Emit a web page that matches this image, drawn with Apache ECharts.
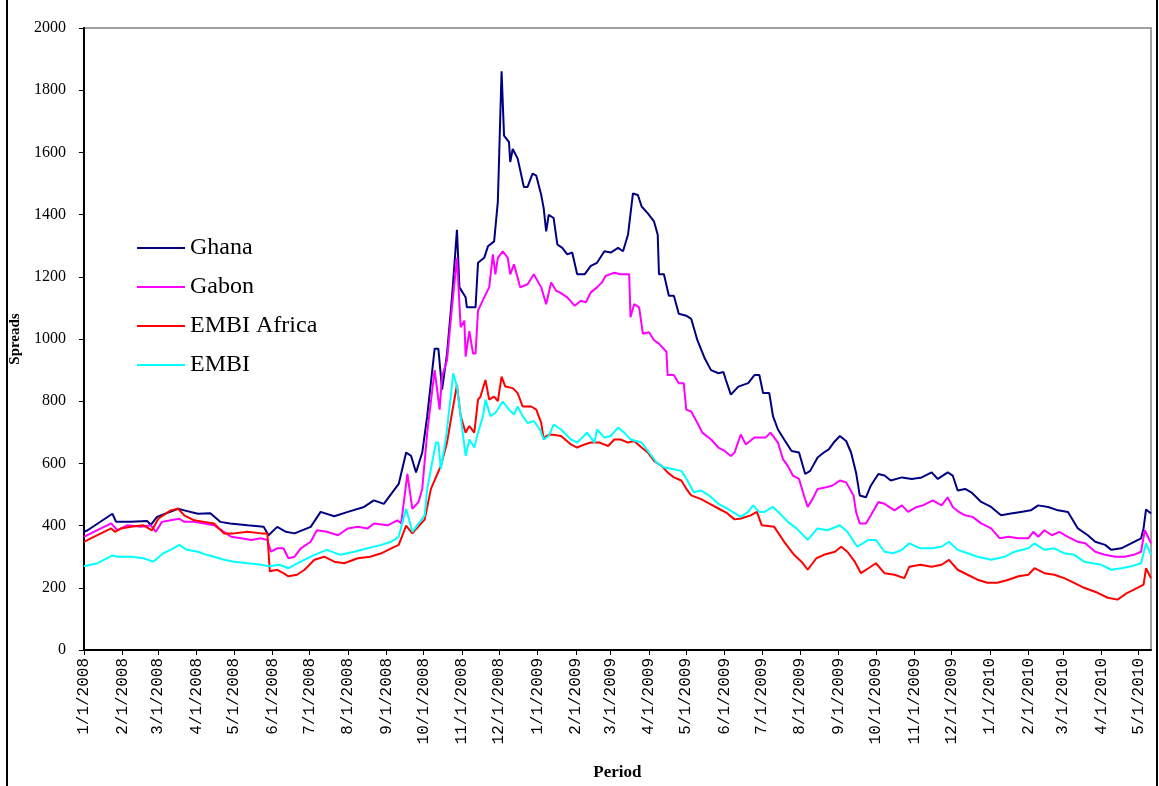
<!DOCTYPE html>
<html>
<head>
<meta charset="utf-8">
<title>Spreads</title>
<script src="https://cdn.jsdelivr.net/npm/echarts@6/dist/echarts.min.js"></script>
<style>
  html, body { margin: 0; padding: 0; background: #fff; }
  #chart { width: 1159px; height: 786px; }
</style>
</head>
<body>
<div id="chart"></div>
<script>
// month tick labels on the x axis
const monthLabels = ['1/1/2008', '2/1/2008', '3/1/2008', '4/1/2008', '5/1/2008', '6/1/2008', '7/1/2008', '8/1/2008', '9/1/2008', '10/1/2008', '11/1/2008', '12/1/2008',
  '1/1/2009', '2/1/2009', '3/1/2009', '4/1/2009', '5/1/2009', '6/1/2009', '7/1/2009', '8/1/2009', '9/1/2009', '10/1/2009', '11/1/2009', '12/1/2009',
  '1/1/2010', '2/1/2010', '3/1/2010', '4/1/2010', '5/1/2010']
const lastDay = '5/11/2010'

// spreads, [date, value]
const ghana = [
  ['2008-01-01', 380], ['2008-01-04', 385], ['2008-01-24', 438], ['2008-01-27', 412], ['2008-02-08', 412], ['2008-02-21', 415], ['2008-02-24', 402], ['2008-02-29', 428],
  ['2008-03-17', 454], ['2008-03-22', 449], ['2008-04-02', 438], ['2008-04-12', 440], ['2008-04-20', 412], ['2008-04-28', 407], ['2008-05-12', 401], ['2008-05-25', 396],
  ['2008-05-29', 369], ['2008-06-05', 396], ['2008-06-12', 380], ['2008-06-19', 375], ['2008-07-02', 396], ['2008-07-10', 444], ['2008-07-21', 430], ['2008-08-01', 444],
  ['2008-08-14', 460], ['2008-08-22', 481], ['2008-08-30', 470], ['2008-09-05', 502], ['2008-09-11', 534], ['2008-09-17', 635], ['2008-09-21', 624], ['2008-09-25', 571],
  ['2008-09-30', 635], ['2008-10-04', 752], ['2008-10-10', 969], ['2008-10-13', 969], ['2008-10-16', 837], ['2008-10-20', 953], ['2008-10-24', 1134], ['2008-10-28', 1351],
  ['2008-10-30', 1166], ['2008-11-04', 1134], ['2008-11-05', 1102], ['2008-11-12', 1102], ['2008-11-14', 1245], ['2008-11-19', 1261], ['2008-11-22', 1298], ['2008-11-27', 1314],
  ['2008-11-30', 1442], ['2008-12-03', 1861], ['2008-12-05', 1654], ['2008-12-09', 1633], ['2008-12-10', 1569], ['2008-12-12', 1611], ['2008-12-16', 1580], ['2008-12-21', 1489],
  ['2008-12-24', 1489], ['2008-12-28', 1532], ['2008-12-31', 1525], ['2009-01-04', 1463], ['2009-01-06', 1420], ['2009-01-08', 1346], ['2009-01-10', 1399], ['2009-01-14', 1389],
  ['2009-01-17', 1304], ['2009-01-21', 1293], ['2009-01-25', 1272], ['2009-01-29', 1278], ['2009-02-02', 1208], ['2009-02-08', 1208], ['2009-02-13', 1235], ['2009-02-18', 1245],
  ['2009-02-24', 1282], ['2009-03-01', 1278], ['2009-03-07', 1293], ['2009-03-11', 1282], ['2009-03-15', 1335], ['2009-03-19', 1468], ['2009-03-23', 1463], ['2009-03-26', 1426],
  ['2009-03-31', 1404], ['2009-04-05', 1378], ['2009-04-08', 1335], ['2009-04-09', 1208], ['2009-04-13', 1208], ['2009-04-17', 1139], ['2009-04-21', 1139], ['2009-04-25', 1081],
  ['2009-05-01', 1075], ['2009-05-05', 1065], ['2009-05-10', 996], ['2009-05-16', 937], ['2009-05-21', 900], ['2009-05-27', 890], ['2009-05-31', 894], ['2009-06-02', 868],
  ['2009-06-06', 821], ['2009-06-12', 847], ['2009-06-20', 858], ['2009-06-25', 884], ['2009-06-29', 884], ['2009-07-02', 826], ['2009-07-07', 826], ['2009-07-10', 752],
  ['2009-07-14', 709], ['2009-07-19', 677], ['2009-07-25', 640], ['2009-07-31', 635], ['2009-08-05', 566], ['2009-08-09', 576], ['2009-08-15', 619], ['2009-08-20', 635],
  ['2009-08-24', 645], ['2009-08-28', 667], ['2009-09-02', 688], ['2009-09-07', 672], ['2009-09-11', 635], ['2009-09-15', 571], ['2009-09-18', 497], ['2009-09-23', 491],
  ['2009-09-27', 529], ['2009-10-03', 566], ['2009-10-08', 561], ['2009-10-13', 545], ['2009-10-22', 555], ['2009-10-30', 550], ['2009-11-07', 555], ['2009-11-15', 571],
  ['2009-11-20', 550], ['2009-11-28', 571], ['2009-12-02', 561], ['2009-12-06', 513], ['2009-12-12', 518], ['2009-12-17', 507], ['2009-12-25', 476], ['2010-01-02', 460],
  ['2010-01-10', 433], ['2010-01-18', 439], ['2010-01-26', 444], ['2010-02-03', 449], ['2010-02-09', 465], ['2010-02-17', 460], ['2010-02-25', 449], ['2010-03-05', 444],
  ['2010-03-13', 391], ['2010-03-21', 369], ['2010-03-27', 348], ['2010-04-04', 338], ['2010-04-09', 322], ['2010-04-17', 327], ['2010-04-25', 343], ['2010-05-03', 359],
  ['2010-05-05', 391], ['2010-05-07', 452], ['2010-05-11', 439]
]

const gabon = [
  ['2008-01-01', 364], ['2008-01-09', 380], ['2008-01-23', 407], ['2008-01-28', 385], ['2008-02-05', 401], ['2008-02-16', 396], ['2008-02-24', 401], ['2008-02-28', 380],
  ['2008-03-04', 412], ['2008-03-11', 417], ['2008-03-18', 422], ['2008-03-22', 412], ['2008-03-30', 412], ['2008-04-07', 407], ['2008-04-15', 401], ['2008-04-23', 380],
  ['2008-04-29', 364], ['2008-05-07', 359], ['2008-05-15', 354], ['2008-05-23', 359], ['2008-05-28', 354], ['2008-05-31', 316], ['2008-06-05', 327], ['2008-06-10', 327],
  ['2008-06-14', 295], ['2008-06-19', 300], ['2008-06-24', 327], ['2008-07-02', 348], ['2008-07-07', 385], ['2008-07-15', 380], ['2008-07-24', 369], ['2008-08-01', 391],
  ['2008-08-09', 396], ['2008-08-17', 391], ['2008-08-22', 407], ['2008-09-02', 401], ['2008-09-10', 417], ['2008-09-13', 407], ['2008-09-18', 566], ['2008-09-22', 454],
  ['2008-09-27', 476], ['2008-09-30', 518], ['2008-10-04', 699], ['2008-10-10', 900], ['2008-10-12', 837], ['2008-10-14', 773], ['2008-10-16', 879], ['2008-10-20', 932],
  ['2008-10-24', 1102], ['2008-10-28', 1261], ['2008-10-31', 1038], ['2008-11-03', 1059], ['2008-11-04', 943], ['2008-11-07', 1025], ['2008-11-10', 953], ['2008-11-12', 953],
  ['2008-11-14', 1091], ['2008-11-19', 1134], ['2008-11-23', 1166], ['2008-11-26', 1272], ['2008-11-28', 1208], ['2008-11-30', 1261], ['2008-12-04', 1282], ['2008-12-08', 1261],
  ['2008-12-10', 1208], ['2008-12-13', 1240], ['2008-12-16', 1197], ['2008-12-18', 1166], ['2008-12-24', 1176], ['2008-12-29', 1208], ['2009-01-04', 1166], ['2009-01-08', 1112],
  ['2009-01-12', 1182], ['2009-01-16', 1155], ['2009-01-19', 1150], ['2009-01-25', 1134], ['2009-01-31', 1107], ['2009-02-05', 1123], ['2009-02-09', 1118], ['2009-02-13', 1150],
  ['2009-02-18', 1166], ['2009-02-22', 1182], ['2009-02-25', 1203], ['2009-03-04', 1213], ['2009-03-09', 1208], ['2009-03-16', 1208], ['2009-03-17', 1070], ['2009-03-20', 1112],
  ['2009-03-24', 1102], ['2009-03-27', 1017], ['2009-04-01', 1022], ['2009-04-05', 996], ['2009-04-09', 985], ['2009-04-15', 959], ['2009-04-16', 884], ['2009-04-21', 884],
  ['2009-04-25', 858], ['2009-04-29', 858], ['2009-05-01', 773], ['2009-05-05', 767], ['2009-05-10', 730], ['2009-05-14', 699], ['2009-05-21', 677], ['2009-05-27', 651],
  ['2009-06-01', 640], ['2009-06-06', 624], ['2009-06-09', 635], ['2009-06-14', 693], ['2009-06-18', 661], ['2009-06-25', 683], ['2009-06-29', 683], ['2009-07-04', 683],
  ['2009-07-08', 699], ['2009-07-14', 667], ['2009-07-18', 614], ['2009-07-22', 592], ['2009-07-26', 561], ['2009-07-31', 550], ['2009-08-04', 497], ['2009-08-07', 460],
  ['2009-08-11', 486], ['2009-08-15', 518], ['2009-08-22', 523], ['2009-08-27', 529], ['2009-09-02', 545], ['2009-09-07', 539], ['2009-09-13', 497], ['2009-09-15', 444],
  ['2009-09-18', 407], ['2009-09-23', 407], ['2009-09-27', 433], ['2009-10-03', 476], ['2009-10-08', 470], ['2009-10-16', 449], ['2009-10-22', 465], ['2009-10-27', 444],
  ['2009-11-03', 460], ['2009-11-08', 465], ['2009-11-16', 481], ['2009-11-23', 465], ['2009-11-28', 491], ['2009-12-02', 460], ['2009-12-07', 444], ['2009-12-12', 433],
  ['2009-12-18', 428], ['2009-12-25', 407], ['2010-01-02', 391], ['2010-01-09', 359], ['2010-01-16', 364], ['2010-01-24', 359], ['2010-02-01', 359], ['2010-02-05', 380],
  ['2010-02-09', 364], ['2010-02-14', 385], ['2010-02-20', 369], ['2010-02-26', 380], ['2010-03-05', 364], ['2010-03-13', 348], ['2010-03-19', 343], ['2010-03-27', 316],
  ['2010-04-04', 306], ['2010-04-12', 300], ['2010-04-20', 300], ['2010-04-27', 306], ['2010-05-03', 316], ['2010-05-06', 385], ['2010-05-08', 369], ['2010-05-11', 343]
]

const embiAfrica = [
  ['2008-01-01', 348], ['2008-01-09', 364], ['2008-01-23', 391], ['2008-01-26', 380], ['2008-01-31', 391], ['2008-02-08', 396], ['2008-02-18', 401], ['2008-02-25', 385],
  ['2008-03-01', 422], ['2008-03-07', 438], ['2008-03-11', 449], ['2008-03-17', 454], ['2008-03-22', 433], ['2008-03-30', 417], ['2008-04-07', 412], ['2008-04-15', 407],
  ['2008-04-23', 375], ['2008-05-01', 375], ['2008-05-12', 380], ['2008-05-23', 375], ['2008-05-28', 375], ['2008-05-30', 253], ['2008-06-05', 258], ['2008-06-10', 247],
  ['2008-06-14', 237], ['2008-06-21', 242], ['2008-06-27', 258], ['2008-07-05', 290], ['2008-07-13', 300], ['2008-07-21', 284], ['2008-07-29', 279], ['2008-08-09', 295],
  ['2008-08-19', 300], ['2008-08-28', 311], ['2008-09-05', 327], ['2008-09-11', 338], ['2008-09-17', 400], ['2008-09-22', 375], ['2008-10-02', 420], ['2008-10-07', 518],
  ['2008-10-15', 592], ['2008-10-20', 667], ['2008-10-24', 762], ['2008-10-28', 852], ['2008-10-31', 752], ['2008-11-04', 699], ['2008-11-07', 720], ['2008-11-11', 699],
  ['2008-11-14', 805], ['2008-11-16', 815], ['2008-11-20', 868], ['2008-11-23', 805], ['2008-11-27', 815], ['2008-11-30', 800], ['2008-12-03', 879], ['2008-12-06', 847],
  ['2008-12-12', 842], ['2008-12-16', 826], ['2008-12-20', 783], ['2008-12-27', 783], ['2008-12-31', 773], ['2009-01-04', 730], ['2009-01-06', 677], ['2009-01-08', 688],
  ['2009-01-12', 693], ['2009-01-20', 688], ['2009-01-28', 661], ['2009-02-02', 651], ['2009-02-08', 661], ['2009-02-13', 667], ['2009-02-20', 667], ['2009-02-27', 656],
  ['2009-03-04', 677], ['2009-03-09', 677], ['2009-03-15', 667], ['2009-03-20', 672], ['2009-03-26', 651], ['2009-03-31', 635], ['2009-04-05', 608], ['2009-04-11', 592],
  ['2009-04-16', 571], ['2009-04-21', 555], ['2009-04-27', 545], ['2009-05-02', 513], ['2009-05-05', 497], ['2009-05-13', 485], ['2009-05-20', 470], ['2009-05-27', 455],
  ['2009-06-03', 440], ['2009-06-09', 420], ['2009-06-14', 423], ['2009-06-22', 433], ['2009-06-27', 444], ['2009-07-01', 401], ['2009-07-11', 396], ['2009-07-19', 348],
  ['2009-07-27', 306], ['2009-08-02', 284], ['2009-08-07', 258], ['2009-08-14', 295], ['2009-08-20', 306], ['2009-08-29', 316], ['2009-09-03', 332], ['2009-09-08', 316],
  ['2009-09-14', 284], ['2009-09-19', 247], ['2009-09-25', 263], ['2009-10-01', 279], ['2009-10-08', 247], ['2009-10-16', 242], ['2009-10-24', 231], ['2009-10-28', 268],
  ['2009-11-06', 274], ['2009-11-15', 268], ['2009-11-23', 274], ['2009-11-29', 290], ['2009-12-06', 258], ['2009-12-14', 242], ['2009-12-22', 226], ['2009-12-30', 216],
  ['2010-01-07', 216], ['2010-01-16', 226], ['2010-01-24', 237], ['2010-02-01', 242], ['2010-02-06', 263], ['2010-02-14', 247], ['2010-02-22', 242], ['2010-03-02', 231],
  ['2010-03-10', 216], ['2010-03-18', 200], ['2010-03-29', 184], ['2010-04-06', 168], ['2010-04-14', 162], ['2010-04-22', 184], ['2010-04-30', 200], ['2010-05-05', 210],
  ['2010-05-07', 263], ['2010-05-11', 231]
]

const embi = [
  ['2008-01-01', 269], ['2008-01-12', 279], ['2008-01-24', 304], ['2008-01-28', 300], ['2008-02-08', 300], ['2008-02-18', 295], ['2008-02-26', 284], ['2008-03-05', 311],
  ['2008-03-11', 322], ['2008-03-18', 338], ['2008-03-24', 322], ['2008-04-02', 316], ['2008-04-09', 306], ['2008-04-15', 300], ['2008-04-23', 290], ['2008-05-01', 284],
  ['2008-05-12', 279], ['2008-05-23', 274], ['2008-05-29', 269], ['2008-06-07', 274], ['2008-06-14', 263], ['2008-06-24', 284], ['2008-07-05', 306], ['2008-07-15', 322],
  ['2008-07-26', 306], ['2008-08-06', 316], ['2008-08-17', 327], ['2008-08-28', 338], ['2008-09-05', 348], ['2008-09-11', 364], ['2008-09-17', 454], ['2008-09-22', 380],
  ['2008-10-02', 433], ['2008-10-04', 518], ['2008-10-11', 667], ['2008-10-13', 667], ['2008-10-15', 582], ['2008-10-19', 677], ['2008-10-23', 815], ['2008-10-25', 890],
  ['2008-10-28', 847], ['2008-11-01', 720], ['2008-11-04', 624], ['2008-11-07', 677], ['2008-11-11', 651], ['2008-11-14', 699], ['2008-11-18', 752], ['2008-11-20', 805],
  ['2008-11-24', 752], ['2008-11-28', 762], ['2008-12-04', 799], ['2008-12-09', 773], ['2008-12-13', 757], ['2008-12-16', 783], ['2008-12-20', 752], ['2008-12-24', 730],
  ['2008-12-29', 736], ['2009-01-03', 709], ['2009-01-06', 677], ['2009-01-10', 688], ['2009-01-14', 725], ['2009-01-20', 709], ['2009-01-28', 677], ['2009-02-02', 667],
  ['2009-02-10', 699], ['2009-02-16', 667], ['2009-02-18', 709], ['2009-02-24', 683], ['2009-03-01', 688], ['2009-03-07', 715], ['2009-03-12', 699], ['2009-03-17', 677],
  ['2009-03-26', 667], ['2009-04-01', 635], ['2009-04-07', 603], ['2009-04-13', 587], ['2009-04-20', 582], ['2009-04-27', 576], ['2009-05-02', 545], ['2009-05-07', 507],
  ['2009-05-13', 513], ['2009-05-20', 495], ['2009-05-27', 470], ['2009-06-03', 455], ['2009-06-09', 440], ['2009-06-14', 428], ['2009-06-20', 444], ['2009-06-24', 465],
  ['2009-06-29', 444], ['2009-07-03', 444], ['2009-07-10', 460], ['2009-07-17', 433], ['2009-07-22', 412], ['2009-07-29', 391], ['2009-08-07', 354], ['2009-08-15', 391],
  ['2009-08-23', 385], ['2009-09-02', 401], ['2009-09-08', 380], ['2009-09-16', 332], ['2009-09-25', 354], ['2009-10-01', 354], ['2009-10-08', 316], ['2009-10-15', 311],
  ['2009-10-22', 322], ['2009-10-28', 343], ['2009-11-06', 327], ['2009-11-15', 327], ['2009-11-23', 332], ['2009-11-29', 348], ['2009-12-06', 322], ['2009-12-14', 311],
  ['2009-12-22', 300], ['2010-01-02', 290], ['2010-01-13', 300], ['2010-01-21', 316], ['2010-02-01', 327], ['2010-02-06', 343], ['2010-02-14', 322], ['2010-02-22', 327],
  ['2010-03-02', 311], ['2010-03-10', 306], ['2010-03-18', 284], ['2010-04-01', 274], ['2010-04-09', 258], ['2010-04-17', 263], ['2010-04-25', 269], ['2010-05-03', 279],
  ['2010-05-07', 343], ['2010-05-11', 306]
]

const seriesNames = ['Ghana', 'Gabon', 'EMBI Africa', 'EMBI']
const seriesColors = ['#000080', '#ff00ff', '#ff0000', '#00ffff']
const seriesData = [ghana, gabon, embiAfrica, embi]

// dates as local-time stamps, the axis runs on them as plain numbers
function parseMDY(s) {
  const p = s.split('/')
  return new Date(+p[2], +p[0] - 1, +p[1]).getTime()
}
function parseISO(s) {
  const p = s.split('-')
  return new Date(+p[0], +p[1] - 1, +p[2]).getTime()
}
const monthTicks = monthLabels.map(parseMDY)

const chart = echarts.init(document.getElementById('chart'))
chart.setOption({
  animation: false,
  backgroundColor: '#fff',
  graphic: [{
    type: 'rect',
    shape: { x: 7, y: -5, width: 1150, height: 800 },
    style: { fill: 'none', stroke: '#000', lineWidth: 2 },
    silent: true
  }],
  grid: {
    left: 83,
    right: 8,
    top: 28,
    bottom: 130,
    show: true,
    borderColor: '#a0a0a0',
    borderWidth: 2
  },
  legend: {
    orient: 'vertical',
    left: 132,
    top: 231,
    icon: 'rect',
    itemWidth: 48,
    itemHeight: 2,
    itemGap: 15,
    textStyle: { fontFamily: 'Liberation Serif', fontSize: 24, lineHeight: 24, color: '#000' },
    data: seriesNames
  },
  xAxis: {
    type: 'value',
    min: monthTicks[0],
    max: parseMDY(lastDay),
    name: 'Period',
    nameLocation: 'middle',
    nameGap: 114,
    nameTextStyle: { fontFamily: 'Liberation Serif', fontWeight: 'bold', fontSize: 17, color: '#000' },
    axisLine: { lineStyle: { color: '#000', width: 2 } },
    axisTick: { customValues: monthTicks, length: 5, lineStyle: { color: '#000' } },
    axisLabel: {
      customValues: monthTicks,
      rotate: 90,
      margin: 8,
      fontFamily: 'Liberation Mono',
      fontSize: 16,
      color: '#000',
      formatter: function (v) {
        const d = new Date(v)
        return (d.getMonth() + 1) + '/' + d.getDate() + '/' + d.getFullYear()
      }
    },
    splitLine: { show: false }
  },
  yAxis: {
    type: 'value',
    min: 0,
    max: 2000,
    interval: 200,
    name: 'Spreads',
    nameLocation: 'middle',
    nameGap: 58,
    nameTextStyle: { fontFamily: 'Liberation Serif', fontWeight: 'bold', fontSize: 15, color: '#000' },
    axisLine: { show: true, lineStyle: { color: '#000', width: 2 } },
    axisTick: { show: true, length: 5, lineStyle: { color: '#000' } },
    axisLabel: {
      fontFamily: 'Liberation Serif',
      fontSize: 16,
      color: '#000',
      margin: 18,
      formatter: function (v) { return String(v) }
    },
    splitLine: { show: false }
  },
  series: seriesNames.map(function (name, i) {
    return {
      name: name,
      type: 'line',
      data: seriesData[i].map(function (p) { return [parseISO(p[0]), p[1]] }),
      symbol: 'none',
      color: seriesColors[i],
      lineStyle: { color: seriesColors[i], width: 2 }
    }
  })
})
</script>
</body>
</html>
